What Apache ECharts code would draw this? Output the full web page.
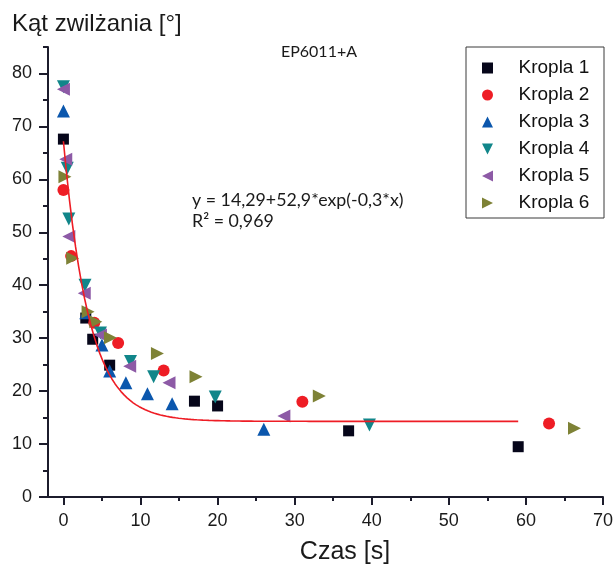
<!DOCTYPE html>
<html><head><meta charset="utf-8">
<script src="https://cdn.jsdelivr.net/npm/echarts@6/dist/echarts.min.js"></script>
<style>html,body{margin:0;padding:0;background:#fff}#c{width:616px;height:570px}</style>
</head><body><div id="c"></div>
<script>
// ---- data ----
const seriesNames = ['Kropla 1', 'Kropla 2', 'Kropla 3', 'Kropla 4', 'Kropla 5', 'Kropla 6'];
const kropla1 = [[0, 67.6], [2.9, 33.8], [3.8, 29.8], [6.0, 24.9], [17.0, 18.1], [20.0, 17.2], [37.0, 12.5], [59.0, 9.5]];
const kropla2 = [[0, 58.0], [1.0, 45.5], [4.0, 32.9], [7.1, 29.1], [13.0, 23.9], [31.0, 18.0], [63.0, 13.9]];
const kropla3 = [[0, 72.9], [2.9, 34.8], [5.0, 28.7], [6.0, 23.8], [8.1, 21.6], [10.9, 19.5], [14.1, 17.6], [26.0, 12.8]];
const kropla4 = [[0, 77.5], [0.5, 62.1], [0.7, 52.5], [2.8, 40.0], [4.8, 31.0], [8.7, 25.6], [11.7, 22.7], [19.7, 18.9], [39.7, 13.6]];
const kropla5 = [[0, 77.0], [0.3, 63.8], [0.7, 49.2], [2.7, 38.5], [4.8, 30.6], [8.6, 24.7], [13.7, 21.6], [28.6, 15.3]];
const kropla6 = [[0.2, 60.5], [1.2, 45.1], [3.2, 35.0], [4.2, 33.1], [6.1, 30.1], [12.2, 27.1], [17.2, 22.7], [33.2, 19.1], [66.3, 13.0]];

const xMajorTicks = [0, 10, 20, 30, 40, 50, 60, 70];
const xMinorTicks = [5, 15, 25, 35, 45, 55, 65];
const yMajorTicks = [0, 10, 20, 30, 40, 50, 60, 70, 80];
const yMinorTicks = [5, 15, 25, 35, 45, 55, 65, 75, 85];

// fitted model printed on the chart: y = 14,29 + 52,9*exp(-0,3*x)
const fitA = 14.29, fitB = 52.9, fitK = -0.3;
const fitFrom = 0, fitTo = 59, fitSteps = 150;

// ---- styling ----
const colors = ['#06061a', '#ee1d25', '#0b57ad', '#11868a', '#8d5aa6', '#7e8236'];
const symbols = [
  'path://M0,0 L10,0 L10,10 L0,10 Z',
  'circle',
  'path://M5,0 L10,10 L0,10 Z',
  'path://M0,0 L10,0 L5,10 Z',
  'path://M10,0 L10,10 L0,5 Z',
  'path://M0,0 L0,10 L10,5 Z'];
const symbolSizes = [11, 12, 13, 13, 13, 13];
const allData = [kropla1, kropla2, kropla3, kropla4, kropla5, kropla6];

const fitData = [];
for (let i = 0; i <= fitSteps; i++) {
  const x = fitFrom + (fitTo - fitFrom) * i / fitSteps;
  fitData.push([x, fitA + fitB * Math.exp(fitK * x)]);
}

const axisColor = '#1c1c2c';
const labelFont = { fontFamily: 'Liberation Sans', fontSize: 18, color: '#1a1a1a' };

const chart = echarts.init(document.getElementById('c'), null, { renderer: 'canvas' });
const scatterSeries = allData.map((d, i) => ({
  name: seriesNames[i], type: 'scatter', data: d,
  symbol: symbols[i], symbolSize: symbolSizes[i],
  itemStyle: { color: colors[i], opacity: 1 },
  xAxisIndex: 0, yAxisIndex: 0, z: 2 + i
}));

chart.setOption({
  animation: false,
  backgroundColor: '#fff',
  grid: { left: 48, top: 47, width: 556, height: 450, containLabel: false },
  xAxis: [
    { type: 'value', min: -2, max: 70, position: 'bottom',
      axisLine: { onZero: false, lineStyle: { color: axisColor, width: 2 } },
      axisTick: { customValues: xMajorTicks, length: 8, lineStyle: { color: axisColor, width: 2 } },
      axisLabel: { customValues: xMajorTicks, margin: 15, ...labelFont },
      splitLine: { show: false } },
    { type: 'value', min: -2, max: 70, position: 'bottom',
      axisLine: { show: false, onZero: false },
      axisTick: { customValues: xMinorTicks, length: 4, lineStyle: { color: axisColor, width: 2 } },
      axisLabel: { show: false }, splitLine: { show: false } }
  ],
  yAxis: [
    { type: 'value', min: 0, max: 85, position: 'left',
      axisLine: { show: true, onZero: false, lineStyle: { color: axisColor, width: 2 } },
      axisTick: { show: true, customValues: yMajorTicks, length: 9, lineStyle: { color: axisColor, width: 2 } },
      axisLabel: { customValues: yMajorTicks, margin: 16, ...labelFont },
      splitLine: { show: false } },
    { type: 'value', min: 0, max: 85, position: 'left',
      axisLine: { show: false, onZero: false },
      axisTick: { show: true, customValues: yMinorTicks, length: 5, lineStyle: { color: axisColor, width: 2 } },
      axisLabel: { show: false }, splitLine: { show: false } }
  ],
  legend: {
    data: seriesNames, orient: 'vertical', left: 482, top: 58.5, padding: 0,
    itemWidth: 52, itemHeight: 11, itemGap: 8,
    textStyle: { fontFamily: 'Liberation Sans', fontSize: 19, color: '#111' }
  },
  graphic: [
    { type: 'rect', shape: { x: 466, y: 47, width: 138, height: 171 },
      style: { fill: 'none', stroke: '#3a3a3a', lineWidth: 1 }, z: 100 },
    { type: 'text', x: 12, y: 24.5,
      style: { text: 'Kąt zwilżania [°]', font: '24px "Liberation Sans"', fill: '#1a1a1a', textAlign: 'left', textVerticalAlign: 'middle' } },
    { type: 'text', x: 345, y: 552,
      style: { text: 'Czas [s]', font: '25px "Liberation Sans"', fill: '#1a1a1a', textAlign: 'center', textVerticalAlign: 'middle' } },
    { type: 'text', x: 319, y: 52,
      style: { text: 'EP6011+A', font: '16px Lato', fill: '#1a1a1a', textAlign: 'center', textVerticalAlign: 'middle' } },
    { type: 'text', x: 192, y: 200,
      style: { text: 'y = 14,29+52,9*exp(-0,3*x)', font: '17.8px Lato', fill: '#1a1a1a', textAlign: 'left', textVerticalAlign: 'middle' } },
    { type: 'text', x: 192, y: 221,
      style: { text: 'R² = 0,969', font: '17.8px Lato', fill: '#1a1a1a', textAlign: 'left', textVerticalAlign: 'middle' } }
  ],
  series: [
    ...scatterSeries,
    { name: 'fit', type: 'line', data: fitData, showSymbol: false, symbol: 'none',
      lineStyle: { color: '#ee1d25', width: 1.6 }, z: 20, xAxisIndex: 0, yAxisIndex: 0 }
  ]
});
</script></body></html>
